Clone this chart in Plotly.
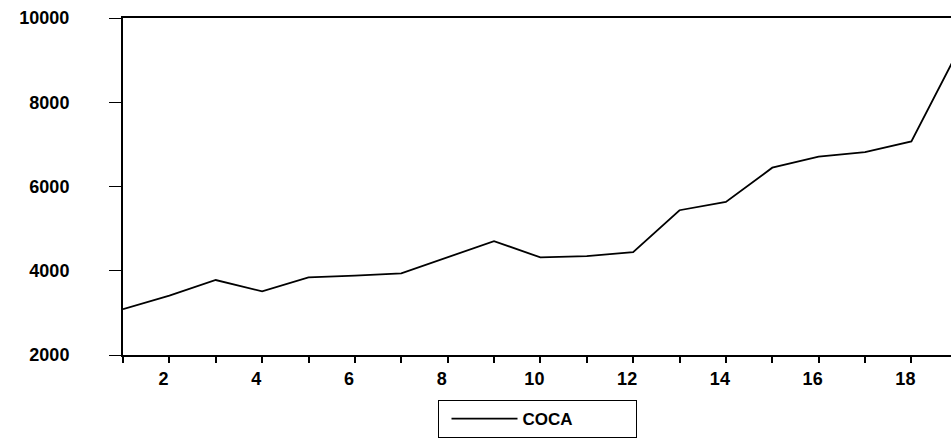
import plotly.graph_objects as go

periods = list(range(1, 20))
coca = [3086, 3408, 3780, 3512, 3844, 3882, 3938, 4317, 4703,
        4317, 4348, 4443, 5437, 5633, 6447, 6710, 6817, 7070, 9200]
x_tick_vals = list(range(1, 20))
x_tick_labels = [str(v) if v % 2 == 0 else "" for v in x_tick_vals]
y_tick_vals = [2000, 4000, 6000, 8000, 10000]
y_tick_labels = ["2000", "4000", "6000", "8000", "10000"]

font = dict(family="Liberation Sans, Arial, sans-serif", size=18, color="black", weight="bold")

fig = go.Figure()
fig.add_trace(go.Scatter(x=periods, y=coca, mode="lines", name="COCA",
                         line=dict(color="black", width=1.8)))

fig.update_layout(
    width=951, height=438,
    margin=dict(l=123, r=0, t=18, b=83, autoexpand=False),
    paper_bgcolor="white", plot_bgcolor="white",
    font=font,
    showlegend=True,
    legend=dict(x=0.5, xanchor="center", y=-0.1335, yanchor="top",
                orientation="h", bordercolor="black", borderwidth=1,
                itemwidth=66, entrywidth=108, indentation=8,
                font=dict(size=17, weight="bold"),
                bgcolor="white"),
)
fig.update_xaxes(range=[1, 18.854], tickvals=x_tick_vals, ticktext=x_tick_labels,
                 showgrid=False, zeroline=False, showline=True, linecolor="black",
                 linewidth=1.5, mirror=True, ticks="outside", ticklen=6,
                 tickcolor="black", tickwidth=1.5, ticklabelstandoff=1,
                 ticklabelshift=-6)
fig.update_yaxes(range=[2000, 10000], tickvals=y_tick_vals, ticktext=y_tick_labels,
                 showgrid=False, zeroline=False, showline=True, linecolor="black",
                 linewidth=2, mirror=False, ticks="outside", ticklen=12,
                 tickcolor="black", tickwidth=1.2, ticklabelstandoff=36)

fig.write_html("out.html")
